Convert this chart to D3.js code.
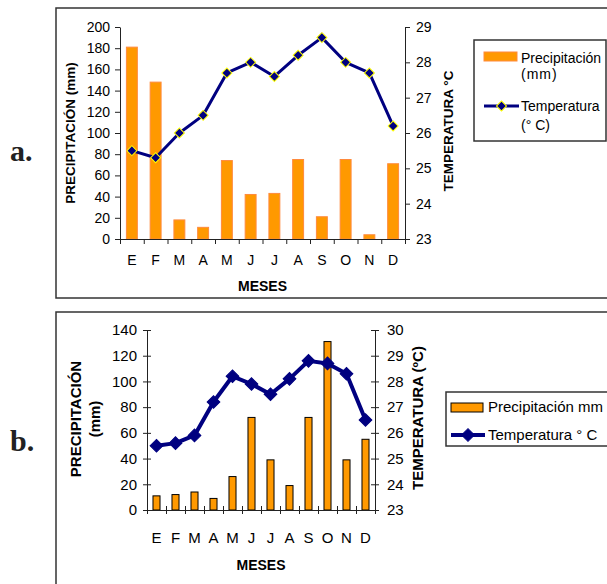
<!DOCTYPE html>
<html>
<head>
<meta charset="utf-8">
<script src="https://cdn.jsdelivr.net/npm/d3@7"></script>
<style>
  body { margin: 0; background: #fff; }
  text { font-family: "Liberation Sans", Arial, sans-serif; fill: #000; }
  .bold { font-weight: bold; }
  .tag { font-family: "Liberation Serif", serif; font-weight: bold; fill: #222; }
</style>
</head>
<body>
<svg id="chart" width="607" height="584"></svg>
<script>
// data
var months = ["E", "F", "M", "A", "M", "J", "J", "A", "S", "O", "N", "D"];

var rainA = [181, 148, 18, 11, 74, 42, 43, 75, 21, 75, 4, 71];
var tempA = [25.5, 25.3, 26.0, 26.5, 27.7, 28.0, 27.6, 28.2, 28.7, 28.0, 27.7, 26.2];
var rainTicksA = [0, 20, 40, 60, 80, 100, 120, 140, 160, 180, 200];
var tempTicksA = [23, 24, 25, 26, 27, 28, 29];

var rainB = [11, 12, 14, 9, 26, 72, 39, 19, 72, 131, 39, 55];
var tempB = [25.5, 25.6, 25.9, 27.2, 28.2, 27.9, 27.5, 28.1, 28.8, 28.7, 28.3, 26.5];
var rainTicksB = [0, 20, 40, 60, 80, 100, 120, 140];
var tempTicksB = [23, 24, 25, 26, 27, 28, 29, 30];

var svg = d3.select("#chart");

var drawChart = function (c) {
    var g = svg.append("g");

    // frame
    g.append("rect")
        .attr("x", c.frame[0]).attr("y", c.frame[1])
        .attr("width", c.frame[2]).attr("height", c.frame[3])
        .attr("fill", "none").attr("stroke", "#333").attr("stroke-width", 1.5);

    g.append("text").attr("class", "tag")
        .attr("x", 10).attr("y", c.tagY)
        .style("font-size", "30px")
        .text(c.tag);

    var x = d3.scaleBand().domain(d3.range(months.length))
        .range([c.left, c.right])
        .paddingInner(c.pad).paddingOuter(c.pad / 2);
    var xEdge = d3.scaleLinear().domain([0, months.length]).range([c.left, c.right]);
    var y = d3.scaleLinear().domain([0, d3.max(c.rainTicks)]).range([c.bottom, c.top]);
    var y2 = d3.scaleLinear().domain(d3.extent(c.tempTicks)).range([c.bottom, c.top]);

    // bars
    g.selectAll(".bar")
        .data(c.rain)
        .enter().append("rect")
        .attr("class", "bar")
        .attr("x", function (d, i) { return x(i); })
        .attr("y", function (d) { return y(d); })
        .attr("width", x.bandwidth())
        .attr("height", function (d) { return c.bottom - y(d); })
        .attr("fill", "#ff9900")
        .attr("stroke", c.barStroke)
        .attr("stroke-width", 1);

    // axes
    var fs = c.fontSize + "px";
    var fmt = d3.format("d");
    var left = g.append("g").attr("transform", "translate(" + c.left + ",0)")
        .call(d3.axisLeft(y).tickValues(c.rainTicks).tickFormat(fmt)
            .tickSize(c.tick).tickPadding(c.padL).tickSizeOuter(0));
    var right = g.append("g").attr("transform", "translate(" + c.right + ",0)")
        .call(d3.axisRight(y2).tickValues(c.tempTicks).tickFormat(fmt)
            .tickSize(c.tick).tickPadding(c.padR).tickSizeOuter(0));
    var edge = g.append("g").attr("transform", "translate(0," + c.bottom + ")")
        .call(d3.axisBottom(xEdge).ticks(months.length).tickFormat("").tickSize(c.tick).tickSizeOuter(0));
    var cats = g.append("g").attr("transform", "translate(0," + c.bottom + ")")
        .call(d3.axisBottom(x).tickFormat(function (i) { return months[i]; }).tickSize(0).tickPadding(c.padX));
    cats.select(".domain").remove();

    [left, right, edge, cats].forEach(function (a) {
        a.attr("font-family", null).attr("font-size", null);
        a.selectAll("text").style("font-size", fs).attr("fill", "#000");
        a.selectAll("path, line").attr("stroke", "#222");
    });
    if (c.cross) {
        left.selectAll(".tick line").attr("x1", c.tick);
        right.selectAll(".tick line").attr("x1", -c.tick);
        edge.selectAll(".tick line").attr("y1", -c.tick);
    }

    // temperature line
    var line = d3.line()
        .x(function (d, i) { return x(i) + x.bandwidth() / 2; })
        .y(function (d) { return y2(d); });
    g.append("path").datum(c.temp)
        .attr("d", line)
        .attr("fill", "none")
        .attr("stroke", "#000080")
        .attr("stroke-width", c.lineW)
        .attr("stroke-linejoin", "round");

    var diamond = d3.symbol().type(d3.symbolSquare).size(c.mark);
    g.selectAll(".pt")
        .data(c.temp)
        .enter().append("path")
        .attr("class", "pt")
        .attr("d", diamond)
        .attr("transform", function (d, i) {
            return "translate(" + (x(i) + x.bandwidth() / 2) + "," + y2(d) + ") rotate(45)";
        })
        .attr("fill", "#000080")
        .attr("stroke", c.markStroke)
        .attr("stroke-width", 1);

    // axis titles
    var ts = c.titleSize + "px";
    c.yTitle.forEach(function (t) {
        g.append("text").attr("class", "bold")
            .attr("transform", "translate(" + t[1] + "," + t[2] + ") rotate(-90)")
            .attr("text-anchor", "middle").attr("dy", "0.35em")
            .style("font-size", ts)
            .text(t[0]);
    });
    g.append("text").attr("class", "bold")
        .attr("x", (c.left + c.right) / 2).attr("y", c.xTitleY)
        .attr("text-anchor", "middle").attr("dy", "0.35em")
        .style("font-size", "14px")
        .text("MESES");

    // legend
    var L = c.legend;
    var lg = g.append("g");
    lg.append("rect")
        .attr("x", L.box[0]).attr("y", L.box[1])
        .attr("width", L.box[2]).attr("height", L.box[3])
        .attr("fill", "#fff").attr("stroke", "#333").attr("stroke-width", 1.5);
    lg.append("rect")
        .attr("x", L.sw[0]).attr("y", L.sw[1]).attr("width", L.sw[2]).attr("height", 9)
        .attr("fill", "#ff9900").attr("stroke", c.barStroke);
    lg.append("line")
        .attr("x1", L.ln[0]).attr("x2", L.ln[1]).attr("y1", L.ln[2]).attr("y2", L.ln[2])
        .attr("stroke", "#000080").attr("stroke-width", c.lineW);
    lg.append("path")
        .attr("d", diamond)
        .attr("transform", "translate(" + (L.ln[0] + L.ln[1]) / 2 + "," + L.ln[2] + ") rotate(45)")
        .attr("fill", "#000080").attr("stroke", c.markStroke);
    L.text.forEach(function (t) {
        lg.append("text")
            .attr("x", L.tx).attr("y", t[1]).attr("dy", "0.35em")
            .style("font-size", L.size + "px")
            .style("letter-spacing", t[2] || null)
            .text(t[0]);
    });
};

drawChart({
    tag: "a.", tagY: 161,
    frame: [56, 8, 570, 290],
    left: 120, right: 405, top: 27, bottom: 239,
    pad: 0.54, rain: rainA, temp: tempA, rainTicks: rainTicksA, tempTicks: tempTicksA,
    barStroke: "#ff8a3d", lineW: 3, mark: 50, markStroke: "#ffff00",
    tick: 5, cross: false, padL: 5, padR: 6, padX: 16, fontSize: 14,
    titleSize: 13.5,
    yTitle: [["PRECIPITACIÓN (mm)", 70, 133], ["TEMPERATURA °C", 448, 131]],
    xTitleY: 286,
    legend: {
        box: [474, 40, 132, 101], sw: [484, 52, 33], ln: [484, 519, 106], tx: 521, size: 14,
        text: [["Precipitación", 58], ["(mm)", 74, "1px"], ["Temperatura", 106], ["(° C)", 125]]
    }
});

drawChart({
    tag: "b.", tagY: 451,
    frame: [56, 312, 570, 300],
    left: 147, right: 375, top: 330, bottom: 510,
    pad: 0.63, rain: rainB, temp: tempB, rainTicks: rainTicksB, tempTicks: tempTicksB,
    barStroke: "#000", lineW: 4, mark: 81, markStroke: "#000080",
    tick: 4, cross: true, padL: 6, padR: 8, padX: 22, fontSize: 15,
    titleSize: 15,
    yTitle: [["PRECIPITACIÓN", 76, 419], ["(mm)", 95, 419], ["TEMPERATURA (ºC)", 418, 418]],
    xTitleY: 565,
    legend: {
        box: [446, 392, 170, 54], sw: [451, 403, 32], ln: [451, 485, 435], tx: 488, size: 15,
        text: [["Precipitación mm", 407], ["Temperatura ° C", 435]]
    }
});
</script>
</body>
</html>
